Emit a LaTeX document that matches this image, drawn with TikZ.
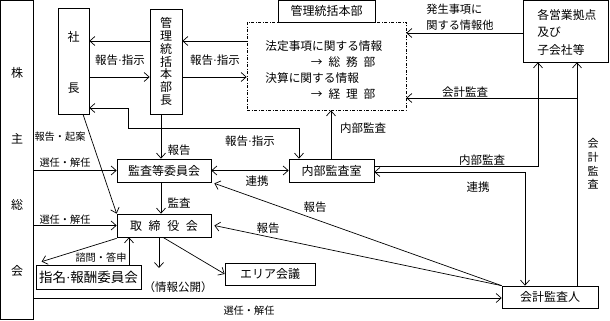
\documentclass[tikz,border=0pt]{standalone}
\usepackage{fontspec}
\setmainfont{Noto Sans CJK JP}
\newfontfamily\latinfont{Liberation Serif}
\newcommand\mdot{{\latinfont\char"00B7}}
\usetikzlibrary{arrows.meta}
\begin{document}
\begin{tikzpicture}[x=1pt,y=-1pt,line width=0.7pt,
  box/.style={draw,inner sep=0pt,font=\fontsize{12}{14}\selectfont},
  dbox/.style={draw,inner sep=0pt,dash pattern={on 3pt off 1.5pt on 1pt off 1.5pt}},
  arr/.style={-{Straight Barb[length=5pt,width=9pt]}},
  darr/.style={{Straight Barb[length=5pt,width=9pt]}-{Straight Barb[length=5pt,width=9pt]}},
  lbl/.style={inner sep=0pt,font=\fontsize{11.5}{13}\selectfont},
  slbl/.style={inner sep=0pt,font=\fontsize{10.2}{12}\selectfont}]
\useasboundingbox (0,0) rectangle (610,321);
% helper coordinates
\coordinate (h41) at (0,41);
\coordinate (h77) at (0,77);
\coordinate (h108) at (0,108);
\coordinate (h98) at (0,98);
\coordinate (h33) at (0,33);
\coordinate (h166) at (0,166);
\coordinate (h172) at (0,172);
\coordinate (h298) at (0,298);
\coordinate (v128) at (128,128);
\coordinate (v299) at (299,128);
\coordinate (c161) at (161,0);
\coordinate (c331) at (331,0);
\coordinate (c538) at (538,0);
\coordinate (c525) at (525,0);
\coordinate (c577) at (577,0);
\coordinate (c83) at (83,0);
\coordinate (c129) at (129,0);
\coordinate (c163) at (163,0);
\coordinate (infoend) at (159,268);
% boxes
\node[box,minimum width=32.5,minimum height=319] (kabu) at (16.75,160) {};
\node[inner sep=0pt,font=\fontsize{12}{66}\selectfont,align=center] (kabut) at (17,171.5) {株\\主\\総\\会};
\node[box,minimum width=31,minimum height=106] (shacho) at (73.5,61) {};
\node[inner sep=0pt,font=\fontsize{12}{51}\selectfont,align=center] (shachot) at (73.5,62.5) {社\\長};
\node[box,minimum width=32,minimum height=105,font=\fontsize{12}{12.7}\selectfont,align=center] (kanribucho) at (166,61.5) {管\\理\\統\\括\\本\\部\\長};
\node[dbox,minimum width=159,minimum height=88] (dashed) at (326.5,66) {};
\node[box,minimum width=97,minimum height=21.5,fill=white] (honbu) at (326.5,11.25) {管理統括本部};
\node[inner sep=0pt,anchor=west,align=left,font=\fontsize{11.7}{16}\selectfont] (dtext) at (265,70)
  {法定事項に関する情報\\\hspace*{3.9em}→\hspace{0.5em}総\hspace{0.5em}務\hspace{0.5em}部\\決算に関する情報\\\hspace*{3.9em}→\hspace{0.5em}経\hspace{0.5em}理\hspace{0.5em}部};
\node[box,minimum width=85,minimum height=61.5] (eigyo) at (565.5,31.25) {};
\node[inner sep=0pt,anchor=west,align=left,font=\fontsize{11.8}{17.5}\selectfont] (eigyot) at (537,32) {各営業拠点\\及び\\子会社等};
\node[box,minimum width=94,minimum height=23] (kansa) at (164,170.5) {監査等委員会};
\node[box,minimum width=94,minimum height=23] (torishimari) at (164,225.5) {取\hspace{0.55em}締\hspace{0.55em}役\hspace{0.55em}会};
\node[box,minimum width=85,minimum height=23] (naibu) at (331.5,170.5) {内部監査室};
\node[box,minimum width=105,minimum height=24,font=\fontsize{13.5}{15}\selectfont] (shimei) at (88.5,277) {指名\mdot 報酬委員会};
\node[box,minimum width=90,minimum height=22] (area) at (270,274) {エリア会議};
\node[box,minimum width=96,minimum height=22] (kaikei) at (550,297) {会計監査人};
% connectors top
\draw[arr] (kanribucho.west |- h41) -- (shacho.east |- h41);
\draw[arr] (shacho.east |- h77) -- (kanribucho.west |- h77);
\node[lbl] (l1) at (120,60) {報告\mdot 指示};
\draw[arr] (dashed.west |- h41) -- (kanribucho.east |- h41);
\draw[arr] (kanribucho.east |- h77) -- (dashed.west |- h77);
\node[lbl] (l2) at (215,60) {報告\mdot 指示};
\draw[darr] (shacho.east |- h108) -- (v128 |- h108) -- (v128) -- (v299) -- (naibu.north -| v299);
\node[lbl] (l3) at (250,141) {報告\mdot 指示};
\draw[arr] (kanribucho.south -| c161) -- (kansa.north -| c161);
\node[lbl] (l4) at (179,150) {報告};
\draw[darr] (kansa.east) -- (naibu.west);
\node[lbl] (l5) at (257,181) {連携};
\draw[arr] (naibu.north -| c331) -- (dashed.south -| c331);
\node[lbl] (l6) at (363,128) {内部監査};
\draw[arr] (eigyo.west |- h33) -- (dashed.east |- h33);
\node[inner sep=0pt,anchor=west,align=left,font=\fontsize{11.2}{16}\selectfont] (l7) at (426,17) {発生事項に\\関する情報他};
\draw[arr] (kaikei.north -| c577) -- (eigyo.south -| c577);
\draw[arr] (c577 |- h98) -- (dashed.east |- h98);
\node[lbl] (l8) at (465,92) {会計監査};
\draw[arr] (naibu.east |- h166) -- (c538 |- h166) -- (eigyo.south -| c538);
\node[lbl] (l9) at (482,160) {内部監査};
\draw[darr] (naibu.east |- h172) -- (c525 |- h172) -- (kaikei.north -| c525);
\node[lbl] (l10) at (478,187) {連携};
\node[inner sep=0pt,align=center,font=\fontsize{11}{13.7}\selectfont] (l11) at (593,164) {会\\計\\監\\査};
\draw[arr] (kaikei.north west) -- ([shift={(3,1)}]kansa.south east);
\node[lbl] (l12) at (315,207) {報告};
\draw[arr] (kaikei.north west) -- ([xshift=3pt]torishimari.east);
\node[lbl] (l13) at (268,228) {報告};
% left side
\draw[arr] (kabu.east |- kansa.west) -- (kansa.west);
\node[slbl] (l14) at (65,163) {選任・解任};
\draw[arr] (kabu.east |- torishimari.west) -- (torishimari.west);
\node[slbl] (l15) at (65,220) {選任・解任};
\draw[arr] (kabu.east |- h298) -- (kaikei.west |- h298);
\node[slbl] (l16) at (249,311) {選任・解任};
\draw[arr] (shacho.south -| c83) -- (torishimari.north west);
\node[slbl] (l17) at (60,137) {報告・起案};
\draw[arr] (kansa.south -| c161) -- (torishimari.north -| c161);
\node[lbl] (l18) at (179,203) {監査};
% bottom
\draw[arr] ([yshift=-1pt]torishimari.south west) -- ([shift={(6,-3)}]shimei.north west);
\draw[arr] (shimei.north -| c129) -- (torishimari.south -| c129);
\node[slbl] (l19) at (101,258) {諮問・答申};
\draw[arr] (torishimari.south -| infoend) -- (infoend);
\node[inner sep=0pt,font=\fontsize{11.5}{13}\selectfont] (info) at (178,287) {（情報公開）};
\draw[arr] (torishimari.south -| c163) -- (area.west);
\end{tikzpicture}
\end{document}
